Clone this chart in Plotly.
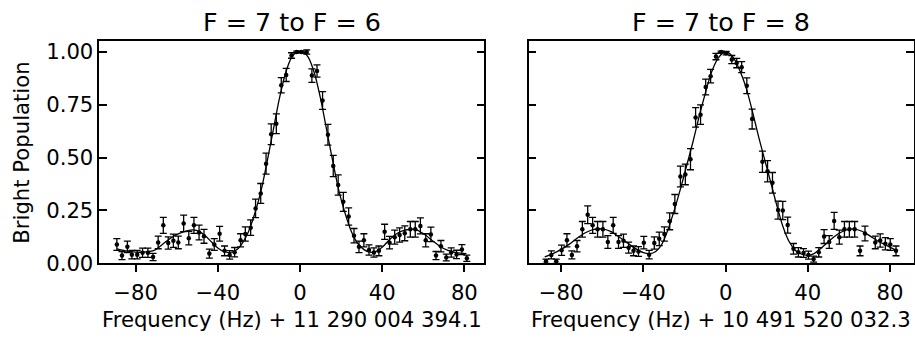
import plotly.graph_objects as go

# ---------------- data: F = 7 -> F = 6 ----------------
freq_76 = [-89.1, -86.6, -84.0, -81.8, -79.2, -76.6, -74.0, -71.5, -69.0, -66.5, -64.1,
           -61.6, -59.2, -56.6, -54.1, -51.6, -49.1, -46.7, -44.1, -41.7, -39.1, -36.7,
           -34.2, -31.8, -28.9, -26.6, -24.0, -21.6, -19.1, -16.5, -14.0, -11.5, -9.1,
           -6.7, -4.1, -1.6, 0.8, 3.3, 5.8, 8.3, 11.0, 13.6, 16.2, 18.6, 21.1, 23.7,
           26.3, 28.7, 31.1, 33.6, 36.0, 38.4, 41.2, 43.6, 46.1, 48.5, 51.0, 53.7,
           56.1, 58.6, 61.2, 63.7, 66.2, 68.6, 71.2, 73.6, 76.2, 78.8, 81.2]
pop_76 = [0.088, 0.036, 0.077, 0.040, 0.040, 0.049, 0.049, 0.029, 0.098, 0.179, 0.095,
          0.106, 0.098, 0.188, 0.118, 0.179, 0.145, 0.127, 0.045, 0.088, 0.139, 0.058,
          0.039, 0.052, 0.108, 0.138, 0.168, 0.259, 0.330, 0.471, 0.610, 0.660, 0.842,
          0.891, 0.983, 1.000, 1.000, 1.000, 0.888, 0.910, 0.770, 0.608, 0.460, 0.370,
          0.290, 0.221, 0.130, 0.077, 0.108, 0.062, 0.050, 0.058, 0.148, 0.097, 0.123,
          0.133, 0.141, 0.160, 0.160, 0.176, 0.108, 0.136, 0.036, 0.080, 0.027, 0.050,
          0.041, 0.064, 0.023]
err_76 = [0.028, 0.019, 0.027, 0.020, 0.020, 0.022, 0.022, 0.017, 0.030, 0.038, 0.029,
          0.031, 0.030, 0.039, 0.032, 0.038, 0.035, 0.033, 0.021, 0.028, 0.035, 0.023,
          0.020, 0.022, 0.031, 0.034, 0.037, 0.044, 0.047, 0.050, 0.049, 0.047, 0.036,
          0.031, 0.013, 0.004, 0.004, 0.010, 0.032, 0.029, 0.042, 0.049, 0.050, 0.048,
          0.045, 0.041, 0.034, 0.027, 0.031, 0.024, 0.022, 0.023, 0.036, 0.030, 0.033,
          0.034, 0.035, 0.037, 0.037, 0.038, 0.031, 0.034, 0.019, 0.027, 0.016, 0.022,
          0.020, 0.024, 0.015]
fit_x_76 = [-89, -85, -80, -75, -71, -67, -63, -59, -55, -52, -49, -46, -43, -40, -37,
            -34, -31, -28, -25, -22, -19, -16, -13, -10, -7, -4, -2, 0, 2, 4, 7, 10, 13,
            16, 19, 22, 25, 28, 31, 34, 37, 40, 44, 48, 52, 56, 60, 64, 68, 72, 76, 81]
fit_y_76 = [0.067, 0.058, 0.052, 0.053, 0.060, 0.088, 0.118, 0.140, 0.153, 0.157, 0.150,
            0.128, 0.100, 0.072, 0.055, 0.050, 0.062, 0.095, 0.150, 0.235, 0.340, 0.480,
            0.630, 0.780, 0.900, 0.975, 0.995, 1.000, 0.995, 0.975, 0.900, 0.780, 0.630,
            0.480, 0.340, 0.235, 0.150, 0.095, 0.065, 0.052, 0.055, 0.075, 0.115, 0.145,
            0.158, 0.160, 0.140, 0.110, 0.080, 0.060, 0.050, 0.045]

# ---------------- data: F = 7 -> F = 8 ----------------
freq_78 = [-87.4, -84.8, -82.4, -79.8, -77.2, -74.8, -72.3, -69.7, -67.1, -64.7, -62.3,
           -59.7, -57.3, -54.7, -52.1, -49.7, -47.2, -44.8, -42.4, -39.8, -37.2,
           -34.7, -32.3, -29.8, -27.2, -24.7, -22.0, -19.6, -17.1, -14.6, -12.2, -9.7,
           -7.3, -4.7, -2.2, 0.25, 3.0, 5.4, 7.8, 10.3, 12.9,
           17.9, 20.4, 22.8, 25.5, 27.8, 30.2, 33.0, 35.4, 37.9, 40.3, 42.8, 45.3, 47.9,
           50.4, 52.8, 55.3, 57.8, 60.2, 62.8, 65.4, 67.8,
           72.8, 75.2, 77.7, 80.1, 82.9]
pop_78 = [0.009, 0.039, 0.009, 0.061, 0.108, 0.039, 0.080, 0.160, 0.229, 0.179, 0.160,
          0.160, 0.100, 0.179, 0.100, 0.106, 0.073, 0.058, 0.055, 0.097, 0.040,
          0.095, 0.115, 0.138, 0.198, 0.280, 0.410, 0.420, 0.492, 0.690, 0.703, 0.834,
          0.885, 0.978, 1.000, 0.994, 0.964, 0.947, 0.928, 0.840, 0.682,
          0.480, 0.435, 0.380, 0.251, 0.249, 0.180, 0.068, 0.051, 0.048, 0.038, 0.019,
          0.051, 0.126, 0.100, 0.200, 0.123, 0.160, 0.160, 0.160, 0.058, 0.140,
          0.098, 0.107, 0.092, 0.088, 0.058]
err_78 = [0.010, 0.019, 0.010, 0.024, 0.031, 0.019, 0.027, 0.037, 0.042, 0.038, 0.037,
          0.037, 0.030, 0.038, 0.030, 0.031, 0.026, 0.023, 0.023, 0.030, 0.020,
          0.029, 0.032, 0.034, 0.040, 0.045, 0.049, 0.049, 0.050, 0.046, 0.046, 0.037,
          0.032, 0.015, 0.004, 0.008, 0.019, 0.022, 0.026, 0.037, 0.047,
          0.050, 0.050, 0.049, 0.043, 0.043, 0.038, 0.025, 0.022, 0.021, 0.019, 0.014,
          0.022, 0.033, 0.030, 0.040, 0.033, 0.037, 0.037, 0.037, 0.023, 0.035,
          0.030, 0.031, 0.029, 0.028, 0.023]
fit_x_78 = [-88, -84, -80, -76, -72, -68, -64, -60, -56, -52, -48, -44, -40, -37, -34,
            -31, -28, -25, -22, -19, -16, -13, -10, -7, -4, -1, 1, 4, 7, 10, 13, 16, 19,
            22, 25, 28, 31, 34, 37, 40, 43, 47, 51, 55, 59, 62, 66, 70, 74, 78, 83]
fit_y_78 = [0.030, 0.045, 0.065, 0.090, 0.120, 0.145, 0.160, 0.162, 0.150, 0.125, 0.097,
            0.070, 0.050, 0.045, 0.055, 0.090, 0.160, 0.250, 0.350, 0.460, 0.570, 0.690,
            0.800, 0.900, 0.965, 0.997, 0.998, 0.970, 0.910, 0.830, 0.720, 0.600, 0.490,
            0.380, 0.270, 0.170, 0.100, 0.060, 0.042, 0.037, 0.045, 0.075, 0.110, 0.140,
            0.158, 0.162, 0.152, 0.130, 0.105, 0.085, 0.060]

titles = ["F = 7 to F = 6", "F = 7 to F = 8"]
xlabels = ["Frequency (Hz) + 11 290 004 394.1", "Frequency (Hz) + 10 491 520 032.3"]
ylabel = "Bright Population"
xtick_vals = [-80, -40, 0, 40, 80]
xtick_text = ["\u221280", "\u221240", "0", "40", "80"]
ytick_vals = [0.0, 0.25, 0.5, 0.75, 1.0]
ytick_text = ["0.00", "0.25", "0.50", "0.75", "1.00"]

# ---------------- layout geometry (px) ----------------
W, H = 915, 350
FONT = "DejaVu Sans"
FS = 21.2
TFS = 25.4
ax_left = [(99.4, 484.3), (528.5, 913.5)]
ax_top, ax_bot = 41, 272
xranges = [[-97.6, 89.7], [-95.9, 91.4]]

fig = go.Figure()

panels = [(freq_76, pop_76, err_76, fit_x_76, fit_y_76),
          (freq_78, pop_78, err_78, fit_x_78, fit_y_78)]

for i, (fx, fy, fe, cx, cy) in enumerate(panels):
    xa = "x" if i == 0 else "x2"
    ya = "y" if i == 0 else "y2"
    fig.add_trace(go.Scatter(x=cx, y=cy, mode="lines", line=dict(color="black", width=1.3,
                  shape="spline", smoothing=0.8), xaxis=xa, yaxis=ya, showlegend=False,
                  hoverinfo="skip"))
    fig.add_trace(go.Scatter(x=fx, y=fy, mode="markers",
                  marker=dict(color="black", size=4.5),
                  error_y=dict(type="data", array=fe, visible=True, color="black",
                               thickness=1.3, width=3.5),
                  xaxis=xa, yaxis=ya, showlegend=False))

common_x = dict(tickvals=xtick_vals, ticktext=xtick_text, ticks="outside", ticklen=7,
                ticklabelstandoff=3,
                tickwidth=1.6, tickcolor="black", showline=True, linewidth=1.6,
                linecolor="black", mirror=True, showgrid=False, zeroline=False,
                tickfont=dict(family=FONT, size=FS, color="black"))
common_y = dict(tickvals=ytick_vals, ticktext=ytick_text, ticks="inside", ticklen=8,
                tickwidth=1.6, tickcolor="black", showline=True, linewidth=1.6,
                linecolor="black", mirror="ticks", showgrid=False, zeroline=False,
                range=[0, 1.05], tickfont=dict(family=FONT, size=FS, color="black"))

ydom = [1 - ax_bot / H, 1 - ax_top / H]
fig.update_layout(
    width=W, height=H, margin=dict(l=0, r=0, t=0, b=0),
    paper_bgcolor="white", plot_bgcolor="white",
    xaxis=dict(domain=[ax_left[0][0] / W, ax_left[0][1] / W], range=xranges[0],
               anchor="y", **common_x),
    xaxis2=dict(domain=[ax_left[1][0] / W, ax_left[1][1] / W], range=xranges[1],
                anchor="y2", **common_x),
    yaxis=dict(domain=ydom, anchor="x", showticklabels=True, **common_y),
    yaxis2=dict(domain=ydom, anchor="x2", showticklabels=False, **common_y),
)

annotations = []
for i in range(2):
    cx = (ax_left[i][0] + ax_left[i][1]) / 2 / W
    annotations.append(dict(text=titles[i], x=cx, y=1 - 21 / H, xref="paper", yref="paper",
                            xanchor="center", yanchor="middle", showarrow=False,
                            font=dict(family=FONT, size=TFS, color="black")))
    annotations.append(dict(text=xlabels[i], x=cx, y=1 - 331 / H, xref="paper",
                            yref="paper", xanchor="center", yanchor="middle",
                            showarrow=False, font=dict(family=FONT, size=FS, color="black")))
annotations.append(dict(text=ylabel, x=22 / W, y=1 - 157 / H, xref="paper", yref="paper",
                        xanchor="center", yanchor="middle", textangle=-90, showarrow=False,
                        font=dict(family=FONT, size=FS, color="black")))
fig.update_layout(annotations=annotations)

fig.write_html("out.html")
